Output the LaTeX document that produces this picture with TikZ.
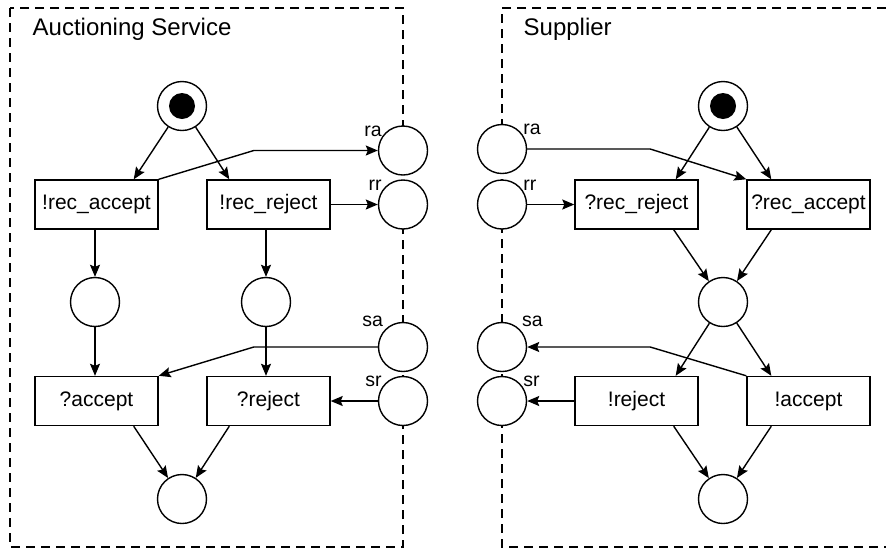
\documentclass[tikz,border=0pt]{standalone}
\usepackage{fontspec}
\setmainfont{Liberation Sans}
\usetikzlibrary{arrows.meta}

\begin{document}
\begin{tikzpicture}[x=1pt, y=-1pt, line width=1.4pt]
  \tikzstyle{place} = [circle, draw, fill=white, minimum size=49pt, inner sep=0pt]
  \tikzstyle{trans} = [rectangle, draw, fill=white, minimum width=123pt, minimum height=49pt,
                       inner sep=0pt, font=\fontsize{21}{25}\selectfont]
  \tikzstyle{plabel} = [inner sep=0pt, font=\fontsize{19.5}{23}\selectfont]
  \tikzstyle{pooltitle} = [anchor=base west, inner sep=0pt, font=\fontsize{24}{28}\selectfont]
  \tikzstyle{flow} = [-{Stealth[length=12pt,width=10pt,inset=2pt]}]
  \tikzstyle{poolbox} = [dash pattern=on 9pt off 6pt, line width=1.3pt]
  \useasboundingbox (0,0) rectangle (886,550);
  % pools
  \draw[poolbox] (10,8) rectangle (403,547);
  \draw[poolbox] (886,8) -- (502,8) -- (502,547) -- (886,547);
  \node[pooltitle] (titleA) at (32,35.5) {Auctioning Service};
  \node[pooltitle] (titleS) at (523,35.5) {Supplier};
  % auctioning service
  \node[place] (startA) at (182,106) {};
  \node[trans] (recAcc) at (96.5,204.5) {!rec\_accept};
  \node[trans] (recRej) at (268.5,204.5) {!rec\_reject};
  \node[place] (pA1) at (95,302) {};
  \node[place] (pA2) at (266,302) {};
  \node[trans] (accA) at (96.5,401) {?accept};
  \node[trans] (rejA) at (268.5,401) {?reject};
  \node[place] (endA) at (182,499) {};
  \node[place, label={[plabel, anchor=base east]145:ra}] (raA) at (403,150.5) {};
  \node[place, label={[plabel, anchor=base east]145:rr}] (rrA) at (403,204.5) {};
  \node[place, label={[plabel, anchor=base east, xshift=-5pt]125:sa}] (saA) at (403,347) {};
  \node[place, label={[plabel, anchor=base east]145:sr}] (srA) at (403,401) {};
  % supplier
  \node[place] (startS) at (723,106) {};
  \node[trans] (recRejS) at (636.5,204.5) {?rec\_reject};
  \node[trans] (recAccS) at (808.5,204.5) {?rec\_accept};
  \node[place] (pS) at (723,302) {};
  \node[trans] (rejS) at (636.5,401) {!reject};
  \node[trans] (accS) at (808.5,401) {!accept};
  \node[place] (endS) at (723,499) {};
  \node[place, label={[plabel, anchor=base west]35:ra}] (raS) at (502,149) {};
  \node[place, label={[plabel, anchor=base west]35:rr}] (rrS) at (502,204.5) {};
  \node[place, label={[plabel, anchor=base west, xshift=5pt]55:sa}] (saS) at (502,347) {};
  \node[place, label={[plabel, anchor=base west]35:sr}] (srS) at (502,401) {};
  % tokens
  \fill (startA.center) circle (13pt);
  \fill (startS.center) circle (13pt);
  % arcs, auctioning service
  \draw[flow] (startA) -- ([xshift=-25pt]recAcc.north east);
  \draw[flow] (startA) -- ([xshift=23pt]recRej.north west);
  \draw[flow] (recAcc.north east) -- ([xshift=-124pt]raA.west) -- (raA);
  \draw[flow] (recRej) -- (rrA);
  \draw[flow] (recAcc.south -| pA1) -- (pA1);
  \draw[flow] (recRej.south -| pA2) -- (pA2);
  \draw[flow] (pA1) -- (accA.north -| pA1);
  \draw[flow] (pA2) -- (rejA.north -| pA2);
  \draw[flow] (saA) -- ([xshift=-124pt]saA.west) -- (accA.north east);
  \draw[flow] (srA) -- (rejA);
  \draw[flow] ([xshift=-25pt]accA.south east) -- (endA);
  \draw[flow] ([xshift=23pt]rejA.south west) -- (endA);
  % arcs, supplier
  \draw[flow] (startS) -- ([xshift=-23pt]recRejS.north east);
  \draw[flow] (startS) -- ([xshift=25pt]recAccS.north west);
  \draw[flow] (raS) -- ([xshift=123pt]raS.east) -- (recAccS.north west);
  \draw[flow] (rrS) -- (recRejS);
  \draw[flow] ([xshift=-25pt]recRejS.south east) -- (pS);
  \draw[flow] ([xshift=25pt]recAccS.south west) -- (pS);
  \draw[flow] (pS) -- ([xshift=-23pt]rejS.north east);
  \draw[flow] (pS) -- ([xshift=25pt]accS.north west);
  \draw[flow] (accS.north west) -- ([xshift=123pt]saS.east) -- (saS);
  \draw[flow] (rejS) -- (srS);
  \draw[flow] ([xshift=-25pt]rejS.south east) -- (endS);
  \draw[flow] ([xshift=25pt]accS.south west) -- (endS);
\end{tikzpicture}
\end{document}
